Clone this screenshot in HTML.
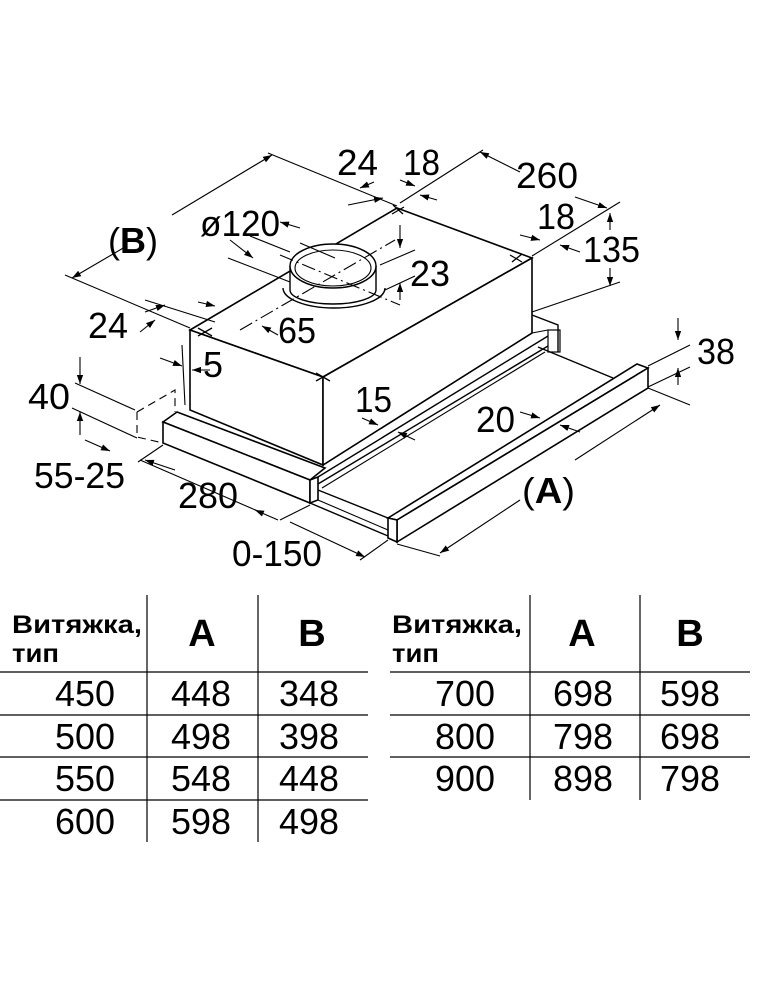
<!DOCTYPE html>
<html><head><meta charset="utf-8"><style>
html,body{margin:0;padding:0;background:#fff;}
svg{display:block;}
text{font-family:"Liberation Sans",Arial,sans-serif;fill:#000;}
.d{font-size:36px;}
.t{font-size:36px;}
.h{font-size:25px;font-weight:bold;}
.hb{font-size:38px;font-weight:bold;}
</style></head><body>
<svg width="760" height="1000" viewBox="0 0 760 1000" xmlns="http://www.w3.org/2000/svg">
<defs>
<marker id="a" viewBox="0 0 10 10" refX="10" refY="5" markerWidth="9" markerHeight="9" orient="auto-start-reverse" markerUnits="userSpaceOnUse"><path d="M0,1.5 L10,5 L0,8.5 z" fill="#000"/></marker>
</defs>
<g fill="none" stroke="#000" stroke-width="1.1">
<g stroke-width="1.6" fill="#fff">
<polygon points="190,330 397,208 532,258 323,377"/>
<polygon points="190,330 323,377 323,465 190,410"/>
<polygon points="323,377 532,258 532,333 323,465"/>
</g>
<polyline points="532,315 558,325 558,352" stroke-width="1.4"/>
<rect x="548" y="330" width="12" height="22" stroke-width="1.2"/>
<line x1="532" y1="333" x2="548" y2="330"/>
<g stroke-width="1.6" fill="#fff">
<polygon points="163,422 177,412 325,468 310,480"/>
<polygon points="163,422 310,480 310,503 163,443"/>
<polygon points="310,480 318,477 318,500 310,503"/>
</g>
<line x1="318" y1="477" x2="548" y2="336" stroke-width="1.4"/>
<line x1="318" y1="484" x2="548" y2="346" stroke-width="1.4"/>
<line x1="322" y1="488" x2="545" y2="352"/>
<line x1="318" y1="490" x2="388" y2="518" stroke-width="1.4"/>
<line x1="310" y1="503" x2="388" y2="536" stroke-width="1.4"/>
<line x1="318" y1="500" x2="388" y2="530"/>
<line x1="538" y1="347" x2="613" y2="378" stroke-width="1.4"/>
<g stroke-width="1.6" fill="#fff">
<polygon points="388,518 637,364 648,368 397,520"/>
<polygon points="397,520 648,368 648,388 397,542"/>
<polygon points="388,518 397,520 397,542 388,538"/>
</g>
<path d="M283,288 A51,20 0 0 0 385,288" stroke-width="1.4"/>
<path d="M290,266 L290,290 A43,14 0 0 0 376,290 L376,266" fill="#fff" stroke-width="1.4"/>
<ellipse cx="333" cy="266" rx="43" ry="22" fill="#fff" stroke-width="1.5"/>
<ellipse cx="333" cy="268" rx="38" ry="18" stroke-width="1.1"/>
<g stroke-dasharray="14,4,2,4" stroke-width="1.1">
<line x1="240" y1="330" x2="395" y2="240"/>
<line x1="280" y1="255" x2="400" y2="305"/>
</g>
<g stroke-width="1.3">
<line x1="393" y1="205" x2="403" y2="214"/><line x1="392" y1="214" x2="404" y2="207"/>
<line x1="510" y1="255" x2="522" y2="262"/><line x1="512" y1="262" x2="522" y2="254"/>
<line x1="198" y1="328" x2="212" y2="336"/><line x1="198" y1="336" x2="212" y2="328"/>
<line x1="316" y1="373" x2="330" y2="381"/><line x1="316" y1="381" x2="330" y2="373"/>
</g>
<g stroke-dasharray="8,5">
<polyline points="137,412 137,437 163,443"/>
<polyline points="137,412 175,390 175,412"/>
</g>
<line x1="65" y1="275" x2="190" y2="328"/>
<line x1="268" y1="153" x2="397" y2="206"/>
<line x1="400" y1="203" x2="483" y2="150"/>
<line x1="532" y1="256" x2="620" y2="202"/>
<line x1="532" y1="312" x2="620" y2="282"/>
<line x1="648" y1="366" x2="690" y2="345"/>
<line x1="648" y1="387" x2="690" y2="367"/>
<line x1="648" y1="388" x2="690" y2="405"/>
<line x1="397" y1="544" x2="440" y2="556"/>
<line x1="310" y1="505" x2="280" y2="520"/>
<line x1="163" y1="445" x2="138" y2="462"/>
<line x1="75" y1="383" x2="135" y2="410"/>
<line x1="72" y1="408" x2="137" y2="438"/>
<line x1="388" y1="540" x2="360" y2="560"/>
<line x1="145" y1="300" x2="215" y2="322"/>
<line x1="300" y1="243" x2="335" y2="258"/>
<line x1="228" y1="258" x2="290" y2="282"/>
<line x1="250" y1="236" x2="290" y2="252"/>
<line x1="380" y1="265" x2="415" y2="250"/>
<line x1="385" y1="290" x2="415" y2="276"/>
<line x1="182" y1="345" x2="185" y2="405"/>
<g marker-end="url(#a)">
<line x1="172" y1="215" x2="272" y2="155"/>
<line x1="125" y1="247" x2="72" y2="278"/>
<line x1="520" y1="172" x2="480" y2="152"/>
<line x1="575" y1="197" x2="607" y2="208"/>
<line x1="348" y1="205" x2="383" y2="198" />
<line x1="374" y1="182" x2="360" y2="188"/>
<line x1="400" y1="180" x2="415" y2="186"/>
<line x1="437" y1="200" x2="420" y2="195"/>
<line x1="520" y1="235" x2="540" y2="240"/>
<line x1="580" y1="252" x2="560" y2="245"/>
<line x1="610" y1="230" x2="610" y2="213"/>
<line x1="610" y1="268" x2="610" y2="286"/>
<line x1="400" y1="225" x2="400" y2="248"/>
<line x1="400" y1="300" x2="400" y2="283"/>
<line x1="230" y1="240" x2="253" y2="258"/>
<line x1="300" y1="228" x2="280" y2="222"/>
<line x1="278" y1="335" x2="262" y2="326"/>
<line x1="145" y1="312" x2="165" y2="305"/>
<line x1="198" y1="302" x2="215" y2="306"/>
<line x1="140" y1="332" x2="155" y2="320"/>
<line x1="160" y1="358" x2="182" y2="366"/>
<line x1="210" y1="370" x2="192" y2="370"/>
<line x1="80" y1="357" x2="80" y2="384"/>
<line x1="80" y1="435" x2="80" y2="412"/>
<line x1="85" y1="440" x2="110" y2="451"/>
<line x1="175" y1="470" x2="145" y2="460"/>
<line x1="278" y1="520" x2="255" y2="510" />
<line x1="290" y1="522" x2="365" y2="557"/>
<line x1="362" y1="418" x2="378" y2="425"/>
<line x1="415" y1="440" x2="398" y2="432"/>
<line x1="520" y1="412" x2="540" y2="418"/>
<line x1="580" y1="432" x2="560" y2="425"/>
<line x1="678" y1="318" x2="678" y2="340"/>
<line x1="678" y1="385" x2="678" y2="368"/>
<line x1="520" y1="500" x2="440" y2="553"/>
<line x1="575" y1="460" x2="660" y2="405"/>
</g>
<line x1="140" y1="460" x2="260" y2="512"/>
</g>
<g lengthAdjust="spacingAndGlyphs">
<text class="d" x="337" y="175" textLength="41" lengthAdjust="spacingAndGlyphs">24</text>
<text class="d" x="403" y="175" textLength="37" lengthAdjust="spacingAndGlyphs">18</text>
<text class="d" x="516" y="188" textLength="62" lengthAdjust="spacingAndGlyphs">260</text>
<text class="d" x="537" y="229" textLength="38" lengthAdjust="spacingAndGlyphs">18</text>
<text class="d" x="583" y="262" textLength="57" lengthAdjust="spacingAndGlyphs">135</text>
<text class="d" x="200" y="236" textLength="80" lengthAdjust="spacingAndGlyphs">ø120</text>
<text class="d" x="410" y="286" textLength="40" lengthAdjust="spacingAndGlyphs">23</text>
<text class="d" x="278" y="343" textLength="38" lengthAdjust="spacingAndGlyphs">65</text>
<text class="d" x="88" y="338" textLength="40" lengthAdjust="spacingAndGlyphs">24</text>
<text class="d" x="203" y="377" textLength="20" lengthAdjust="spacingAndGlyphs">5</text>
<text class="d" x="28" y="409" textLength="42" lengthAdjust="spacingAndGlyphs">40</text>
<text class="d" x="34" y="488" textLength="91" lengthAdjust="spacingAndGlyphs">55-25</text>
<text class="d" x="178" y="508" textLength="60" lengthAdjust="spacingAndGlyphs">280</text>
<text class="d" x="232" y="566" textLength="90" lengthAdjust="spacingAndGlyphs">0-150</text>
<text class="d" x="355" y="412" textLength="37" lengthAdjust="spacingAndGlyphs">15</text>
<text class="d" x="476" y="432" textLength="39" lengthAdjust="spacingAndGlyphs">20</text>
<text class="d" x="697" y="364" textLength="38" lengthAdjust="spacingAndGlyphs">38</text>
<text class="d" x="108" y="253" textLength="50" lengthAdjust="spacingAndGlyphs">(<tspan font-weight="bold">B</tspan>)</text>
<text class="d" x="522" y="503" textLength="53" lengthAdjust="spacingAndGlyphs">(<tspan font-weight="bold">A</tspan>)</text>
</g>
<g stroke="#000" stroke-width="1.2">
<line x1="147" y1="595" x2="147" y2="842"/>
<line x1="258" y1="595" x2="258" y2="842"/>
<line x1="530" y1="595" x2="530" y2="800"/>
<line x1="640" y1="595" x2="640" y2="800"/>
<line x1="0" y1="672" x2="368" y2="672"/>
<line x1="0" y1="715" x2="368" y2="715"/>
<line x1="0" y1="757" x2="368" y2="757"/>
<line x1="0" y1="800" x2="368" y2="800"/>
<line x1="390" y1="672" x2="750" y2="672"/>
<line x1="390" y1="715" x2="750" y2="715"/>
<line x1="390" y1="757" x2="750" y2="757"/>
</g>
<text class="h" x="12" y="633" textLength="130" lengthAdjust="spacingAndGlyphs">Витяжка,</text>
<text class="h" x="12" y="662" textLength="47" lengthAdjust="spacingAndGlyphs">тип</text>
<text class="hb" x="202" y="646" text-anchor="middle">A</text>
<text class="hb" x="312" y="646" text-anchor="middle">B</text>
<text class="h" x="392" y="633" textLength="130" lengthAdjust="spacingAndGlyphs">Витяжка,</text>
<text class="h" x="392" y="662" textLength="47" lengthAdjust="spacingAndGlyphs">тип</text>
<text class="hb" x="582" y="646" text-anchor="middle">A</text>
<text class="hb" x="690" y="646" text-anchor="middle">B</text>
<g>
<text class="t" x="55" y="706" textLength="60" lengthAdjust="spacingAndGlyphs">450</text><text class="t" x="171" y="706" textLength="60" lengthAdjust="spacingAndGlyphs">448</text><text class="t" x="279" y="706" textLength="60" lengthAdjust="spacingAndGlyphs">348</text>
<text class="t" x="55" y="749" textLength="60" lengthAdjust="spacingAndGlyphs">500</text><text class="t" x="171" y="749" textLength="60" lengthAdjust="spacingAndGlyphs">498</text><text class="t" x="279" y="749" textLength="60" lengthAdjust="spacingAndGlyphs">398</text>
<text class="t" x="55" y="791" textLength="60" lengthAdjust="spacingAndGlyphs">550</text><text class="t" x="171" y="791" textLength="60" lengthAdjust="spacingAndGlyphs">548</text><text class="t" x="279" y="791" textLength="60" lengthAdjust="spacingAndGlyphs">448</text>
<text class="t" x="55" y="834" textLength="60" lengthAdjust="spacingAndGlyphs">600</text><text class="t" x="171" y="834" textLength="60" lengthAdjust="spacingAndGlyphs">598</text><text class="t" x="279" y="834" textLength="60" lengthAdjust="spacingAndGlyphs">498</text>
<text class="t" x="435" y="706" textLength="60" lengthAdjust="spacingAndGlyphs">700</text><text class="t" x="553" y="706" textLength="60" lengthAdjust="spacingAndGlyphs">698</text><text class="t" x="660" y="706" textLength="60" lengthAdjust="spacingAndGlyphs">598</text>
<text class="t" x="435" y="749" textLength="60" lengthAdjust="spacingAndGlyphs">800</text><text class="t" x="553" y="749" textLength="60" lengthAdjust="spacingAndGlyphs">798</text><text class="t" x="660" y="749" textLength="60" lengthAdjust="spacingAndGlyphs">698</text>
<text class="t" x="435" y="791" textLength="60" lengthAdjust="spacingAndGlyphs">900</text><text class="t" x="553" y="791" textLength="60" lengthAdjust="spacingAndGlyphs">898</text><text class="t" x="660" y="791" textLength="60" lengthAdjust="spacingAndGlyphs">798</text>
</g>
</svg>
</body></html>
